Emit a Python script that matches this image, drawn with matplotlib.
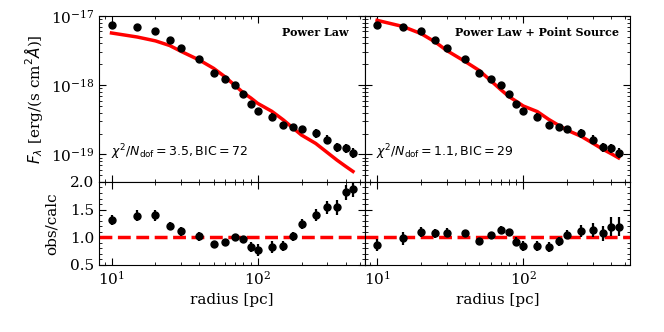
import numpy as np
import matplotlib
matplotlib.use("Agg")
import matplotlib.pyplot as plt
from matplotlib.ticker import MultipleLocator, NullFormatter

# ---- data ----
radius = [10, 15, 20, 25, 30, 40, 50, 60, 70, 80, 90, 100, 125, 150, 175,
          200, 250, 300, 350, 400, 450]
flux_obs = [7.43e-18, 6.9e-18, 6.1e-18, 4.49e-18, 3.41e-18, 2.35e-18, 1.52e-18,
            1.21e-18, 9.9e-19, 7.44e-19, 5.35e-19, 4.21e-19, 3.49e-19, 2.65e-19,
            2.45e-19, 2.35e-19, 2.02e-19, 1.64e-19, 1.27e-19, 1.22e-19, 1.06e-19]
flux_frac_err = [0.10, 0.11, 0.10, 0.08, 0.08, 0.08, 0.06, 0.06, 0.07, 0.07, 0.10,
                 0.12, 0.13, 0.12, 0.10, 0.11, 0.14, 0.15, 0.15, 0.15, 0.16]

model_pl = [5.67e-18, 4.96e-18, 4.36e-18, 3.74e-18, 3.07e-18, 2.30e-18, 1.75e-18,
            1.315e-18, 9.9e-19, 7.75e-19, 6.52e-19, 5.47e-19, 4.20e-19, 3.15e-19,
            2.40e-19, 1.90e-19, 1.44e-19, 1.065e-19, 8.25e-20, 6.74e-20, 5.67e-20]
model_ps = [8.64e-18, 7.04e-18, 5.55e-18, 4.20e-18, 3.16e-18, 2.20e-18, 1.63e-18,
            1.16e-18, 8.68e-19, 6.83e-19, 5.82e-19, 5.01e-19, 4.15e-19, 3.19e-19,
            2.63e-19, 2.24e-19, 1.82e-19, 1.45e-19, 1.19e-19, 1.025e-19, 8.9e-20]

ratio_pl = [1.31, 1.39, 1.40, 1.20, 1.11, 1.02, 0.87, 0.92, 1.00, 0.96, 0.82, 0.77,
            0.83, 0.84, 1.02, 1.24, 1.40, 1.54, 1.54, 1.81, 1.87]
ratio_pl_err = [0.09, 0.10, 0.10, 0.07, 0.08, 0.08, 0.05, 0.05, 0.06, 0.06, 0.09,
                0.10, 0.11, 0.09, 0.08, 0.09, 0.11, 0.12, 0.135, 0.14, 0.15]
ratio_ps = [0.86, 0.98, 1.10, 1.07, 1.08, 1.07, 0.93, 1.04, 1.14, 1.09, 0.92, 0.84,
            0.84, 0.83, 0.93, 1.05, 1.11, 1.13, 1.07, 1.19, 1.19]
ratio_ps_err = [0.10, 0.12, 0.09, 0.08, 0.08, 0.07, 0.04, 0.05, 0.06, 0.06, 0.08,
                0.09, 0.09, 0.09, 0.08, 0.09, 0.11, 0.12, 0.13, 0.17, 0.17]

titles = ["Power Law", "Power Law + Point Source"]
stats = [r"$\chi^2/N_{\rm dof} = 3.5, {\rm BIC} = 72$",
         r"$\chi^2/N_{\rm dof} = 1.1, {\rm BIC} = 29$"]

# ---- style ----
plt.rcParams["font.family"] = ["DejaVu Serif"]
plt.rcParams["mathtext.fontset"] = "dejavusans"
plt.rcParams["font.size"] = 11

fig, axes = plt.subplots(2, 2, figsize=(6.64, 3.32), dpi=100,
                         gridspec_kw=dict(height_ratios=[2, 1], hspace=0, wspace=0))
fig.subplots_adjust(left=0.149, right=0.949, top=0.952, bottom=0.202)

r = np.array(radius)
fobs = np.array(flux_obs)
ferr = fobs * np.array(flux_frac_err)
models = [model_pl, model_ps]
ratios = [(ratio_pl, ratio_pl_err), (ratio_ps, ratio_ps_err)]
title_x = [0.94, 0.958]

for j in range(2):
    top = axes[0, j]
    bot = axes[1, j]
    top.plot(r, models[j], color="red", lw=2.5, zorder=2)
    top.errorbar(r, fobs, yerr=ferr, fmt="o", color="black", ms=5,
                 elinewidth=1.6, capsize=0, zorder=3)
    top.set_xscale("log")
    top.set_yscale("log")
    top.set_ylim(4e-20, 1e-17)
    top.text(title_x[j], 0.898, titles[j], transform=top.transAxes, ha="right",
             va="center", fontsize=8, fontweight="bold")
    top.text(0.045, 0.18, stats[j], transform=top.transAxes, ha="left",
             va="center", fontsize=9)

    rv, re = ratios[j]
    bot.axhline(1.0, color="red", ls="--", lw=2.5, zorder=2)
    bot.errorbar(r, rv, yerr=re, fmt="o", color="black", ms=5,
                 elinewidth=1.6, capsize=0, zorder=3)
    bot.set_xscale("log")
    bot.set_ylim(0.5, 2.0)
    bot.yaxis.set_major_locator(MultipleLocator(0.5))
    bot.yaxis.set_minor_locator(MultipleLocator(0.1))
    bot.set_xlabel("radius [pc]")

    for ax in (top, bot):
        ax.set_xlim(8.2, 540)
        ax.tick_params(which="both", direction="in", top=True, right=True)
        ax.tick_params(which="major", length=5, width=0.8)
        ax.tick_params(which="minor", length=2.5, width=0.6)
        ax.yaxis.set_minor_formatter(NullFormatter())
    top.tick_params(axis="x", which="both", labelbottom=False)
    if j == 1:
        top.tick_params(axis="y", which="both", labelleft=False)
        bot.tick_params(axis="y", which="both", labelleft=False)

axes[0, 0].set_ylabel(r"$F_\lambda$ [erg/(s cm$^2\AA$)]")
axes[1, 0].set_ylabel("obs/calc", labelpad=8)

fig.savefig("out.png", dpi=100)
